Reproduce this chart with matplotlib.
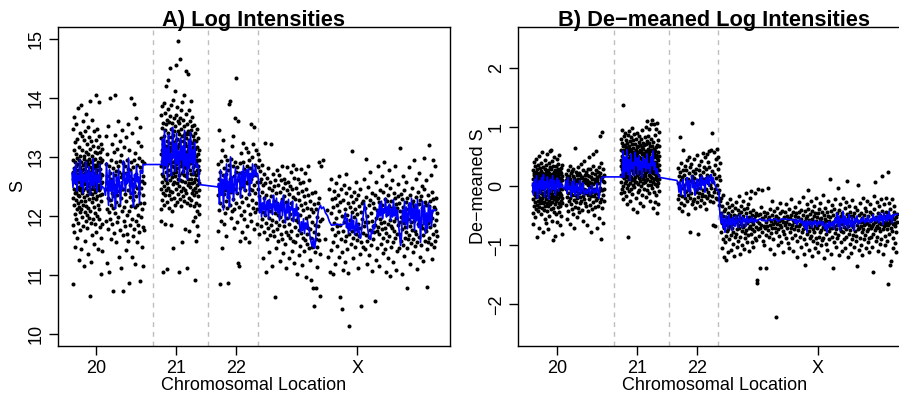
import matplotlib
matplotlib.use('Agg')
import matplotlib.pyplot as plt

plt.rcParams['font.family'] = ['Liberation Sans', 'DejaVu Sans']

# ---------------- axis / category info ----------------
chrom_labels = ['20', '21', '22', 'X']
chrom_ticks = [38.8, 118.9, 178.7, 299.6]
chrom_bounds = [95.5, 150.8, 200.0]
x_range = (0, 392.5)
ylim_A = (9.8, 15.2)
ylim_B = (-2.7, 2.7)
yticks_A = [10, 11, 12, 13, 14, 15]
yticks_B = [-2, -1, 0, 1, 2]
title_A = 'A) Log Intensities'
title_B = 'B) De\u2212meaned Log Intensities'
xlabel = 'Chromosomal Location'
ylabel_A = 'S'
ylabel_B = 'De\u2212meaned S'

# ---------------- Panel A: log intensities (position -> values) ----------------
chr20_S = {
    15: [12.62, 12.95, 12.31, 13.48, 11.85, 12.74, 10.84], 16: [12.45, 12.81, 13.12, 12.18, 12.66, 13.68, 11.72],
    17: [12.91, 12.38, 12.57, 13.25, 12.03, 12.72, 11.48], 18: [12.55, 13.05, 12.27, 12.84, 13.55, 11.95, 12.41],
    19: [12.71, 12.12, 12.98, 12.46, 13.31, 11.62, 12.63], 20: [12.36, 12.88, 12.59, 13.82, 12.21, 11.88, 12.77],
    21: [12.94, 12.49, 12.15, 13.17, 12.68, 11.25, 12.33], 22: [12.58, 13.41, 12.83, 12.07, 12.44, 13.02, 11.76],
    23: [12.26, 12.69, 13.87, 12.52, 12.91, 11.43, 12.11], 24: [12.77, 12.39, 13.11, 12.64, 11.98, 13.36, 12.48],
    25: [12.43, 12.86, 12.19, 13.60, 12.71, 11.83, 12.57], 26: [13.02, 12.54, 12.32, 12.79, 11.15, 12.96, 13.29],
    27: [12.61, 12.25, 12.89, 13.44, 12.06, 12.73, 11.57], 28: [12.84, 12.47, 13.08, 12.17, 12.62, 13.72, 11.91],
    29: [12.35, 12.93, 12.56, 13.21, 11.79, 12.69, 12.02], 30: [12.76, 12.14, 12.42, 13.05, 12.88, 11.36, 13.51],
    31: [12.51, 12.97, 12.28, 12.67, 13.33, 11.97, 12.44], 32: [12.63, 12.09, 12.82, 13.14, 12.38, 10.65, 13.95],
    33: [12.92, 12.45, 12.61, 11.88, 13.26, 12.74, 11.21], 34: [12.37, 12.78, 13.01, 12.23, 12.55, 13.62, 11.67],
    35: [12.69, 12.31, 12.94, 12.50, 11.94, 13.19, 12.83], 36: [12.46, 12.87, 12.15, 13.43, 12.64, 11.52, 12.72],
    37: [12.81, 12.40, 12.58, 13.09, 12.04, 12.97, 11.86], 38: [12.29, 12.73, 13.28, 12.53, 12.86, 11.72, 14.05],
    39: [12.65, 13.06, 12.34, 12.77, 11.99, 13.47, 12.49], 40: [12.52, 12.18, 12.91, 12.67, 13.17, 11.43, 12.84],
    41: [12.89, 12.43, 12.60, 13.35, 12.12, 11.95, 13.93], 42: [12.35, 12.79, 12.98, 12.48, 11.81, 13.08, 12.64],
    43: [12.71, 12.26, 12.55, 13.22, 11.63, 12.92, 11.02], 44: [12.58, 12.95, 12.37, 11.87, 13.13, 12.70, 11.40],
    48: [12.45, 12.88, 11.92, 13.35], 49: [12.12, 12.67, 13.05, 11.20], 50: [12.58, 12.31, 13.52, 11.78],
    51: [12.84, 12.06, 12.49, 11.05], 52: [12.27, 12.72, 14.00, 11.94], 53: [12.63, 12.95, 12.18, 11.61],
    54: [12.39, 13.21, 11.86, 12.54], 55: [12.81, 12.14, 12.47, 10.72], 56: [12.52, 13.08, 11.71, 12.33],
    57: [12.04, 12.69, 13.37, 14.05], 58: [12.76, 12.23, 11.55, 12.91], 59: [12.35, 13.14, 12.61, 11.89],
    60: [12.58, 11.98, 12.85, 13.60], 61: [12.19, 12.74, 11.30, 12.42], 62: [12.93, 12.51, 11.76, 13.26],
    63: [12.30, 12.66, 13.03, 11.12], 64: [12.71, 12.08, 12.45, 13.45], 65: [12.46, 12.89, 11.67, 10.72],
    66: [12.15, 12.62, 13.17, 11.91], 67: [12.84, 12.37, 11.83, 12.56], 68: [12.25, 12.73, 13.33, 11.42],
    69: [12.61, 12.02, 12.94, 11.70], 70: [12.43, 12.80, 11.58, 13.55], 71: [12.09, 12.68, 13.12, 10.87],
    72: [12.77, 12.32, 11.85, 12.52], 73: [12.38, 12.91, 12.16, 14.00], 74: [12.62, 11.95, 13.40, 11.31],
    75: [12.27, 12.83, 12.54, 11.66], 76: [12.95, 12.41, 11.78, 13.90], 77: [12.50, 12.15, 13.07, 11.19],
    78: [12.71, 12.33, 11.92, 13.65], 79: [12.18, 12.86, 12.47, 11.55], 80: [12.64, 12.02, 13.25, 11.84],
    81: [12.39, 12.98, 11.73, 12.57], 82: [12.83, 12.21, 13.50, 10.90], 83: [12.47, 12.76, 11.98, 13.18],
    84: [12.12, 12.59, 12.93, 11.47], 85: [12.68, 12.35, 11.81, 11.15], 86: [12.55, 12.90, 12.22, 11.76],
}
chr21_S = {
    103: [12.85, 13.32, 12.46, 13.71, 12.12, 13.05, 11.92], 104: [13.12, 12.58, 13.49, 12.93, 12.27, 13.86, 12.71],
    105: [12.67, 13.21, 12.95, 13.58, 12.38, 11.05, 13.03], 106: [13.35, 12.82, 12.51, 13.14, 13.92, 12.18, 12.99],
    107: [12.91, 13.46, 12.63, 13.08, 12.35, 13.74, 11.87], 108: [13.18, 12.74, 13.55, 12.44, 12.97, 14.20, 12.61],
    109: [12.55, 13.27, 12.86, 13.63, 12.23, 13.02, 11.10], 110: [13.41, 12.89, 12.48, 13.16, 13.81, 12.69, 14.30],
    111: [12.78, 13.34, 13.07, 12.36, 13.59, 12.13, 12.92], 112: [13.24, 12.61, 12.97, 13.69, 12.42, 14.50, 13.11],
    113: [12.99, 13.48, 12.71, 12.29, 13.17, 11.84, 13.88], 114: [12.66, 13.13, 13.57, 12.84, 12.40, 13.33, 12.08],
    115: [13.37, 12.92, 12.54, 13.25, 13.96, 12.73, 11.45], 116: [12.83, 13.44, 13.06, 12.31, 13.65, 12.58, 13.21],
    117: [13.09, 12.67, 13.52, 12.95, 12.19, 14.12, 12.77], 118: [12.74, 13.29, 12.88, 13.71, 12.46, 13.04, 14.55],
    119: [13.31, 12.81, 13.15, 12.55, 13.84, 12.24, 12.96], 120: [12.96, 13.43, 12.62, 13.18, 12.37, 14.97, 13.61],
    121: [13.22, 12.70, 13.39, 12.99, 13.58, 11.05, 12.50], 122: [12.61, 13.26, 12.93, 13.66, 12.28, 14.65, 13.09],
    123: [13.14, 12.85, 13.47, 12.42, 13.02, 12.16, 13.79], 124: [12.88, 13.36, 12.59, 13.11, 13.93, 12.73, 11.55],
    125: [13.27, 12.76, 13.04, 12.47, 13.62, 12.33, 12.94], 126: [12.69, 13.19, 12.91, 13.53, 12.25, 14.05, 13.37],
    127: [13.06, 12.58, 13.41, 12.83, 13.24, 11.78, 12.44], 128: [12.81, 13.32, 12.67, 13.09, 12.39, 14.45, 13.72],
    129: [13.19, 12.73, 13.56, 12.96, 12.21, 13.38, 11.12], 130: [12.63, 13.11, 12.87, 13.44, 12.52, 14.40, 12.98],
    131: [13.28, 12.94, 12.56, 13.15, 13.79, 12.31, 11.75], 132: [12.77, 13.38, 13.02, 12.49, 13.61, 12.18, 13.25],
    133: [13.05, 12.62, 13.46, 12.89, 12.27, 13.94, 12.71], 134: [12.92, 13.23, 12.55, 13.67, 12.38, 13.08, 13.52],
    135: [13.16, 12.71, 12.98, 12.43, 13.35, 11.92, 12.82], 136: [12.58, 13.07, 13.29, 12.74, 12.16, 13.54, 12.35],
    137: [12.86, 12.47, 13.13, 12.62, 11.98, 10.92, 13.41], 138: [12.69, 13.02, 12.41, 12.91, 13.26, 11.58, 12.22],
    139: [12.94, 12.53, 12.78, 13.17, 12.09, 13.47, 11.83], 140: [12.61, 12.85, 12.34, 13.05, 12.72, 11.67, 13.32],
    141: [12.77, 12.44, 12.95, 12.18, 13.11, 12.56, 12.03],
}
chr22_S = {
    160: [12.35, 12.88, 11.74], 161: [12.62, 13.45, 12.10], 162: [12.21, 12.74, 10.85], 163: [12.93, 12.48, 11.92],
    164: [12.55, 13.12, 11.45], 165: [12.16, 12.69, 13.28], 166: [12.81, 12.37, 11.86], 167: [12.44, 13.02, 12.05],
    168: [12.71, 12.26, 11.66], 169: [12.58, 12.95, 12.13], 170: [12.32, 12.77, 10.87], 171: [12.86, 13.90, 12.49],
    172: [12.19, 12.63, 13.95], 173: [12.97, 12.41, 11.97], 174: [12.53, 13.18, 12.08], 175: [12.29, 12.84, 13.35],
    176: [12.67, 12.11, 11.79], 177: [12.45, 12.92, 13.65], 178: [12.74, 14.33, 12.22], 179: [12.38, 12.83, 11.90],
    180: [12.60, 13.60, 11.20], 181: [12.15, 12.73, 11.15], 182: [12.89, 12.47, 11.58], 183: [12.34, 13.07, 12.01],
    184: [12.66, 12.24, 11.72], 185: [12.50, 12.91, 13.24], 186: [12.08, 12.79, 11.95], 187: [12.72, 12.43, 11.62],
    188: [12.31, 13.15, 12.57], 189: [12.85, 12.56, 11.83], 190: [12.18, 12.70, 13.08], 191: [12.94, 12.37, 11.55],
    192: [12.46, 12.81, 12.03], 193: [12.62, 13.55, 11.91], 194: [12.27, 12.99, 12.44], 195: [12.76, 12.14, 13.21],
    196: [12.53, 13.50, 11.78], 197: [12.39, 12.87, 12.06], 198: [12.69, 12.22, 13.12], 199: [12.11, 12.58, 11.87],
    200: [12.82, 12.45, 13.04], 201: [12.33, 12.94, 11.69], 202: [12.57, 12.19, 12.76],
}
chrX_S = {
    203: [12.18, 12.62, 11.83], 204: [12.41, 11.95, 12.86], 205: [12.07, 12.53, 11.28], 206: [12.30, 11.72, 12.71],
    207: [12.55, 12.02, 13.23], 208: [11.88, 12.36, 11.05], 209: [12.64, 12.13, 11.61], 210: [12.25, 11.79, 12.81],
    211: [12.47, 11.97, 11.38], 212: [12.09, 12.58, 11.68], 213: [12.33, 11.85, 13.22], 214: [11.93, 12.44, 11.15],
    215: [12.71, 12.19, 11.74], 216: [12.26, 11.66, 12.50], 217: [12.05, 12.61, 10.63], 218: [12.38, 11.90, 11.46],
    219: [11.77, 12.22, 12.78], 220: [12.52, 12.01, 11.58], 221: [12.17, 11.84, 12.69], 222: [11.98, 12.40, 11.24],
    223: [12.60, 12.11, 11.70], 224: [12.29, 11.61, 12.85], 225: [11.91, 12.47, 11.37], 226: [12.34, 11.82, 12.63],
    227: [12.08, 12.55, 11.52], 228: [11.73, 12.24, 11.12], 229: [12.43, 11.96, 12.82], 230: [12.15, 11.68, 12.58],
    231: [11.86, 12.37, 11.29], 232: [12.50, 12.03, 11.63], 233: [12.21, 11.75, 12.74], 234: [11.94, 12.45, 11.41],
    235: [12.32, 11.58, 12.87], 236: [12.06, 12.64, 11.20], 237: [11.81, 12.28, 11.55], 238: [12.48, 11.93, 12.79],
    239: [12.13, 11.67, 11.02], 240: [11.89, 12.39, 12.62], 241: [12.27, 11.76, 11.33], 242: [12.02, 12.56, 11.49],
    243: [11.71, 12.18, 12.80], 244: [12.42, 11.87, 11.16], 245: [12.10, 11.63, 12.57], 246: [11.84, 12.33, 11.40],
    247: [12.22, 11.59, 12.73], 248: [11.97, 12.46, 10.97], 249: [11.69, 12.14, 11.52], 250: [12.36, 11.80, 12.85],
    251: [12.00, 11.45, 12.61], 252: [11.78, 12.25, 11.26], 253: [12.12, 11.62, 10.91], 254: [11.90, 12.39, 11.48],
    255: [11.56, 12.07, 10.78], 256: [12.20, 11.73, 10.47], 257: [11.85, 11.38, 12.40], 258: [11.61, 12.11, 10.78],
    259: [11.98, 11.47, 11.14], 260: [11.70, 12.22, 11.83], 261: [12.31, 11.59, 12.92], 262: [11.92, 11.35, 10.65],
    263: [12.85], 264: [11.95], 265: [12.95], 267: [11.60], 269: [12.10], 270: [11.30], 271: [12.45], 272: [11.05],
    273: [12.05, 11.42, 12.62], 274: [11.78, 12.28], 275: [12.15, 11.55, 11.01], 276: [11.88, 12.42],
    277: [12.30, 11.67, 11.19], 278: [11.96, 12.55], 279: [12.19, 11.49, 11.83], 280: [11.72, 12.36],
    281: [12.08, 11.31, 12.67], 282: [11.84, 12.24, 10.62], 283: [12.46, 11.61], 284: [11.99, 11.38, 10.43],
    285: [12.27, 11.74, 11.09], 286: [11.90, 12.53], 287: [12.12, 11.57, 11.22], 288: [11.66, 12.38, 12.71],
    289: [12.01, 11.44], 290: [11.81, 12.21, 11.03], 291: [12.48, 11.69, 10.14], 292: [11.93, 12.15],
    293: [12.33, 11.52, 11.86], 294: [11.75, 12.06, 13.10], 295: [12.24, 11.62, 11.29], 296: [11.98, 12.41],
    297: [12.11, 11.48, 11.77], 298: [11.70, 12.29, 12.58], 299: [12.03, 11.59], 300: [11.87, 12.35, 11.12],
    301: [12.16, 11.66], 302: [11.79, 12.45, 11.35], 303: [12.07, 11.55, 10.47], 304: [11.94, 12.22],
    305: [12.26, 11.71, 11.47], 306: [11.83, 12.62], 307: [12.14, 11.43, 11.89], 308: [11.68, 12.32, 12.96],
    309: [12.00, 11.58, 11.18], 310: [11.89, 12.49], 311: [12.18, 11.64, 11.34], 312: [11.76, 12.27, 12.74],
    313: [12.05, 11.50], 314: [11.92, 12.39, 11.07], 315: [12.21, 11.61, 11.82], 316: [11.73, 12.13],
    317: [12.36, 11.85, 10.55], 318: [11.97, 12.58, 11.26], 319: [12.10, 11.46, 11.74], 320: [11.81, 12.31, 12.85],
    321: [12.24, 11.69, 11.15], 322: [11.95, 12.44], 323: [12.12, 11.53, 11.88], 324: [11.77, 12.19, 12.67],
    325: [12.40, 11.62, 11.37], 326: [11.90, 12.08, 12.92], 327: [12.29, 11.44, 11.79], 328: [11.71, 12.52, 11.05],
    329: [12.03, 11.58, 12.25], 330: [11.86, 12.36, 11.28], 331: [12.17, 11.66, 12.78], 332: [11.93, 12.47, 10.98],
    333: [12.26, 11.48, 11.83], 334: [11.80, 12.14, 12.60], 335: [12.05, 11.55, 11.21], 336: [11.74, 12.38, 11.92],
    337: [12.31, 11.63, 12.84], 338: [11.96, 12.20, 11.09], 339: [12.13, 11.41, 11.70], 340: [11.85, 12.54, 12.33],
    341: [12.22, 11.69, 11.45], 342: [11.90, 12.09, 13.15], 343: [12.37, 11.57, 11.98], 344: [11.78, 12.28, 11.02],
    345: [12.15, 11.50, 12.68], 346: [11.88, 12.43, 11.32], 347: [12.01, 11.62, 11.81], 348: [11.73, 12.23, 12.57],
    349: [12.30, 11.46, 10.78], 350: [11.94, 12.12, 11.60], 351: [12.19, 11.68, 12.82], 352: [11.82, 12.35, 11.19],
    353: [12.08, 11.54, 11.89], 354: [11.76, 12.47, 12.21], 355: [12.25, 11.60, 11.38], 356: [11.91, 12.17, 12.95],
    357: [12.11, 11.49, 11.75], 358: [11.69, 12.32, 12.63], 359: [12.04, 11.56, 11.10], 360: [11.86, 12.40, 11.96],
    361: [12.20, 11.64, 12.72], 362: [11.95, 12.27, 11.30], 363: [12.33, 11.51, 11.84], 364: [11.79, 12.13, 12.50],
    365: [12.09, 11.67, 11.24], 366: [11.90, 12.45, 12.98], 367: [12.23, 11.58, 11.77], 368: [11.74, 12.19, 12.61],
    369: [12.02, 11.44, 10.80], 370: [11.88, 12.36, 11.55], 371: [12.17, 11.63, 13.20], 372: [11.81, 12.26, 11.92],
    373: [12.06, 11.52, 12.70], 374: [11.97, 12.41, 11.27], 375: [12.28, 11.69, 12.95], 376: [11.84, 12.15, 11.48],
    377: [12.12, 11.57, 12.85], 378: [11.93, 12.30, 11.75], 379: [12.05, 11.66],
}

# ---------------- Panel B: de-meaned log intensities ----------------
chr20_D = {
    15: [0.02, -0.21, 0.28, -0.45, 0.13, -0.08, -0.64], 16: [-0.12, 0.19, -0.33, 0.41, 0.05, -0.02, 0.22],
    17: [0.16, -0.27, 0.07, -0.15, 0.34, -0.52, 0.00], 18: [-0.04, 0.25, -0.18, 0.11, -0.38, 0.47, -0.09],
    19: [0.09, -0.31, 0.20, -0.06, 0.29, -0.86, 0.03], 20: [-0.16, 0.12, -0.24, 0.36, -0.01, 0.18, -0.42],
    21: [0.22, -0.09, 0.04, -0.35, 0.15, -0.70, 0.51], 22: [-0.07, 0.31, -0.19, 0.08, -0.28, 0.17, 0.01],
    23: [0.14, -0.23, 0.26, -0.11, 0.39, -0.47, -0.03], 24: [-0.20, 0.06, -0.37, 0.23, -0.05, 0.58, 0.12],
    25: [0.10, -0.14, 0.33, -0.29, 0.02, -0.77, 0.19], 26: [-0.02, 0.21, -0.26, 0.15, -0.40, 0.07, -0.12],
    27: [0.18, -0.33, 0.04, 0.30, -0.17, 0.45, -0.55], 28: [-0.10, 0.13, -0.22, 0.37, 0.00, -0.62, 0.24],
    29: [0.06, -0.28, 0.20, -0.08, 0.55, -0.41, 0.11], 30: [-0.15, 0.27, -0.04, 0.16, -0.34, 0.02, -0.73],
    31: [0.23, -0.12, 0.09, -0.25, 0.40, -0.50, 0.14], 32: [-0.06, 0.18, -0.30, 0.05, 0.32, -0.18, 0.60],
    33: [0.12, -0.20, 0.29, -0.39, 0.03, 0.61, -0.08], 34: [-0.13, 0.08, -0.27, 0.21, -0.03, 0.43, -0.58],
    35: [0.19, -0.05, 0.35, -0.16, 0.10, -0.91, -0.36], 36: [-0.03, 0.24, -0.21, 0.06, -0.44, 0.15, 0.50],
    37: [0.08, -0.30, 0.17, -0.10, 0.28, -0.84, 0.01], 38: [-0.18, 0.11, -0.06, 0.34, -0.25, 0.20, -0.47],
    39: [0.05, -0.22, 0.25, -0.13, 0.46, -0.60, 0.09], 40: [-0.09, 0.16, -0.35, 0.02, 0.30, -0.19, 0.38],
    41: [0.21, -0.07, 0.12, -0.28, 0.53, -0.43, -0.01], 42: [-0.11, 0.26, -0.17, 0.07, -0.33, 0.14, -0.66],
    43: [0.13, -0.24, 0.03, 0.31, -0.14, -0.50, 0.22], 44: [-0.05, 0.18, -0.29, 0.10, -0.20, 0.37, -0.80],
    48: [-0.05, 0.21, -0.32, 0.10], 49: [0.15, -0.18, 0.04, -0.55], 50: [-0.12, 0.28, -0.41, 0.09],
    51: [0.06, -0.25, 0.18, -0.02], 52: [-0.20, 0.12, 0.35, -0.63], 53: [0.02, -0.30, 0.22, -0.09],
    54: [-0.15, 0.08, -0.38, 0.26], 55: [0.17, -0.06, 0.30, -0.47], 56: [-0.23, 0.01, 0.14, -0.70],
    57: [0.11, -0.14, 0.65, -0.35], 58: [-0.08, 0.24, -0.27, 0.05], 59: [0.19, -0.20, 0.07, -0.52],
    60: [-0.03, 0.33, -0.36, 0.12], 61: [0.09, -0.11, 0.23, -0.44], 62: [-0.18, 0.04, -0.29, 0.20],
    63: [0.14, -0.24, 0.38, -0.06], 64: [-0.10, 0.16, -0.40, 0.02], 65: [0.07, -0.17, 0.27, -0.58],
    66: [-0.21, 0.10, -0.05, 0.43], 67: [0.13, -0.28, 0.19, -0.12], 68: [-0.06, 0.25, -0.33, 0.06],
    69: [0.20, -0.09, 0.11, -0.65], 70: [-0.14, 0.03, -0.42, 0.29], 71: [0.08, -0.22, 0.17, 0.50],
    72: [-0.01, 0.30, -0.31, -0.13], 73: [0.16, -0.16, 0.05, -0.77], 74: [-0.09, 0.22, -0.38, 0.12],
    75: [0.04, -0.26, 0.34, 0.55], 76: [-0.17, 0.13, -0.04, -0.49], 77: [0.21, -0.12, 0.08, -0.35],
    78: [-0.05, 0.27, -0.23, 0.60], 79: [0.10, -0.19, 0.16, -0.70], 80: [-0.13, 0.06, -0.34, 0.24],
    81: [0.18, -0.08, 0.32, -0.53], 82: [-0.02, 0.23, -0.27, 0.85], 83: [0.12, -0.21, 0.40, -0.90],
    84: [-0.07, 0.15, -0.37, 0.92], 85: [0.09, -0.15, 0.29, -0.62], 86: [-0.04, 0.19, -0.25, 0.07],
}
chr21_D = {
    103: [0.35, 0.62, 0.08, 0.81, -0.12, 0.44, 0.20], 104: [0.52, 0.17, 0.73, 0.29, -0.05, 0.96, 0.40],
    105: [0.26, 0.58, 0.01, 0.69, 0.38, 1.38, -0.21], 106: [0.61, 0.33, 0.14, 0.85, 0.47, -0.09, 0.22],
    107: [0.19, 0.70, 0.42, 0.05, 0.57, 0.30, 0.90], 108: [0.45, 0.09, 0.66, 0.24, 0.79, -0.16, 0.37],
    109: [0.31, 0.54, -0.02, 0.74, 0.16, 0.48, -0.30], 110: [0.58, 0.21, 0.39, 0.87, 0.03, -0.85, 0.63],
    111: [0.12, 0.47, 0.28, 0.68, -0.08, 0.35, 0.93], 112: [0.40, 0.76, 0.18, 0.51, 0.06, 0.64, -0.25],
    113: [0.27, 0.60, 0.44, -0.04, 0.83, 0.15, 0.36], 114: [0.55, 0.11, 0.71, 0.32, 0.49, -0.13, 0.99],
    115: [0.23, 0.65, 0.02, 0.41, 0.78, 0.27, -0.38], 116: [0.47, 0.34, 0.59, 0.13, 0.88, -0.01, 0.53],
    117: [0.16, 0.72, 0.38, 0.57, 0.07, 0.44, 0.25], 118: [0.62, 0.29, 0.08, 0.80, 0.35, -0.20, 0.50],
    119: [0.36, 0.53, 0.19, 0.67, -0.43, 0.42, 0.91], 120: [0.21, 0.69, 0.46, 0.04, 0.58, 0.30, -0.10],
    121: [0.50, 0.14, 0.75, 0.37, 0.86, -0.06, 0.26], 122: [0.33, 0.61, 0.09, 0.48, 0.22, 0.70, -0.28],
    123: [0.58, 0.24, 0.42, 0.00, 0.81, 0.15, 0.39], 124: [0.17, 0.66, 0.31, 0.55, -0.15, 0.47, 0.95],
    125: [0.43, 0.05, 0.63, 0.28, 0.74, 0.12, -0.33], 126: [0.29, 0.57, 0.20, 0.70, 0.38, -0.04, 0.52],
    127: [0.52, 0.18, 0.45, 0.07, 0.84, 0.33, 0.23], 128: [0.24, 0.71, 0.36, 0.60, 0.11, 1.00, -0.18],
    129: [0.47, 0.13, 0.58, 0.30, -0.07, 0.77, 1.10], 130: [0.35, 0.64, 0.02, 0.50, 0.26, 0.86, 0.41],
    131: [0.19, 0.55, 0.41, 0.73, -0.12, 0.32, 0.97], 132: [0.60, 0.27, 0.09, 0.46, 0.68, 0.18, -0.24],
    133: [0.38, 0.16, 0.62, 0.25, 0.80, 1.05, 0.03], 134: [0.14, 0.50, 0.33, 0.69, -0.02, 0.43, 1.13],
    135: [0.55, 0.22, 0.40, 0.07, 0.75, 0.28, -0.36], 136: [0.31, 0.63, 0.12, 0.49, -0.10, 0.58, 1.05],
    137: [0.42, 0.04, 0.60, 0.21, 0.87, -0.26, 0.35], 138: [0.25, 0.53, 0.15, 0.39, 0.66, 0.97, -0.14],
    139: [0.48, 0.10, 0.70, 0.31, 0.00, 1.08, -0.45], 140: [0.20, 0.59, 0.36, 0.06, 0.44, 0.78, -0.30],
    141: [0.37, 0.13, 0.52, -0.08, 0.27, 0.68, 0.92],
}
chr22_D = {
    160: [0.05, -0.22, 0.31], 161: [-0.14, 0.18, -0.36], 162: [0.24, -0.05, 0.83], 163: [-0.28, 0.10, 0.40],
    164: [0.15, -0.17, -0.41], 165: [-0.03, 0.62, 0.27], 166: [0.20, -0.31, 0.02], 167: [-0.10, 0.35, -0.20],
    168: [0.28, -0.08, 0.12], 169: [-0.25, 0.07, 0.44], 170: [0.13, -0.15, -0.47], 171: [-0.06, 0.23, 0.50],
    172: [0.32, -0.19, -0.78], 173: [-0.12, 0.09, 0.38], 174: [0.18, -0.30, 1.08], 175: [0.01, 0.26, -0.24],
    176: [-0.21, 0.14, 0.47], 177: [0.22, -0.04, -0.36], 178: [-0.09, 0.30, 0.06], 179: [0.11, -0.26, 0.53],
    180: [-0.18, 0.04, -0.80], 181: [0.27, -0.11, 0.36], 182: [-0.02, 0.19, -0.33], 183: [0.16, -0.23, 0.43],
    184: [-0.13, 0.08, -0.17], 185: [0.25, -0.07, 0.57], 186: [-0.29, 0.12, 0.33], 187: [0.09, -0.16, 0.49],
    188: [-0.04, 0.29, -0.38], 189: [0.20, -0.20, 0.55], 190: [-0.10, 0.06, 0.41], 191: [0.33, -0.14, 0.60],
    192: [-0.24, 0.17, 0.02], 193: [0.13, -0.03, 0.62], 194: [-0.16, 0.26, 0.91], 195: [0.07, -0.27, -0.65],
    196: [0.21, -0.09, 0.58], 197: [-0.05, 0.36, -0.67], 198: [0.14, -0.19, 0.47], 199: [-0.22, 0.03, 0.63],
    200: [0.29, -0.12, 0.50], 201: [-0.07, 0.18, -0.32], 202: [0.10, -0.25, 0.39],
}
chrX_D = {
    203: [-0.45, -0.78, -0.20], 204: [-0.62, -0.33, -1.05], 205: [-0.51, -0.89, -0.15], 206: [-0.70, -0.41, -1.20],
    207: [-0.38, -0.66, -0.95], 208: [-0.84, -0.52, -1.25], 209: [-0.57, -0.29, -0.76], 210: [-0.73, -0.46, -1.12],
    211: [-0.35, -0.61, -0.90], 212: [-0.68, -0.49, -0.22], 213: [-0.54, -0.82, -1.08], 214: [-0.42, -0.70, -0.31],
    215: [-0.77, -0.56, -0.98], 216: [-0.48, -0.64, -1.18], 217: [-0.60, -0.37, -0.86], 218: [-0.81, -0.50, -0.27],
    219: [-0.55, -0.72, -1.02], 220: [-0.40, -0.66, -0.93], 221: [-0.71, -0.47, -0.17], 222: [-0.58, -0.85, -1.14],
    223: [-0.44, -0.63, -0.34], 224: [-0.76, -0.53, -0.99], 225: [-0.50, -0.69, -0.25], 226: [-0.65, -0.39, -1.06],
    227: [-0.79, -0.57, -0.88], 228: [-0.46, -0.74, -0.12], 229: [-0.62, -0.36, -0.95], 230: [-0.83, -0.55, -0.30],
    231: [-0.52, -0.70, -1.10], 232: [-0.67, -0.43, -0.20], 233: [-0.59, -0.80, -0.08], 234: [-0.48, -0.73, -0.94],
    235: [-0.64, -0.40, -1.03], 236: [-0.75, -0.56], 237: [-0.51, -0.88, -0.12], 238: [-0.69, -0.45, -0.91],
    239: [-0.58, -1.59, -1.64], 240: [-0.72, -0.49, -0.04], 241: [-0.62, -0.84], 242: [-0.47, -0.70, -1.38],
    243: [-0.66, -0.35], 244: [-0.78, -0.53, -0.07], 245: [-0.56, -0.92], 246: [-0.43, -0.68, -0.99],
    247: [-0.71, -0.50], 248: [-0.60, -0.82, -1.38], 249: [-0.45, -0.67], 250: [-0.74, -0.55, -0.02],
    251: [-0.52, -0.86], 252: [-0.65, -0.39, -1.07], 253: [-0.79, -0.58], 254: [-0.48, -0.71, -0.25],
    255: [-0.63, -0.90], 256: [-0.55, -0.42, -1.15], 257: [-0.70, -0.60], 258: [-0.50, -0.77, -2.22],
    259: [-0.64, -0.37], 260: [-0.73, -0.53, -1.00], 261: [-0.58, -0.84], 262: [-0.46, -0.66, -0.28],
    263: [-0.69, -0.94], 264: [-0.57, -0.41], 265: [-0.75, -0.60, -1.12], 266: [-0.52, -0.81],
    267: [-0.66, -0.44], 268: [-0.60, -0.87, -0.30], 269: [-0.71, -0.50], 270: [-0.55, -0.96],
    271: [-0.63, -0.38, -1.05], 272: [-0.78, -0.54], 273: [-0.49, -0.70, -0.22], 274: [-0.65, -0.88],
    275: [-0.57, -0.43, -1.10], 276: [-0.72, -0.61], 277: [-0.50, -0.83, -0.35], 278: [-0.67, -0.46],
    279: [-0.59, -0.92, -1.20], 280: [-0.74, -0.52], 281: [-0.44, -0.68, -0.27], 282: [-0.63, -0.85],
    283: [-0.55, -0.40, -1.02], 284: [-0.77, -0.60], 285: [-0.48, -0.72, -0.18], 286: [-0.66, -0.90, -1.15],
    287: [-0.58, -0.42, -1.33], 288: [-0.70, -0.53, -0.97], 289: [-0.51, -0.80, -0.30], 290: [-0.64, -0.38, -0.07],
    291: [-0.76, -0.57, -1.08], 292: [-0.47, -0.69, -0.88], 293: [-0.62, -0.84, -0.24], 294: [-0.55, -0.41, -1.18],
    295: [-0.73, -0.60, -0.93], 296: [-0.50, -0.78, -0.33], 297: [-0.68, -0.45, -1.04], 298: [-0.59, -0.87, -0.20],
    299: [-0.71, -0.52, -0.96], 300: [-0.46, -0.66, -1.12], 301: [-0.64, -0.39, -0.85], 302: [-0.77, -0.56, -0.29],
    303: [-0.53, -0.74, -1.00], 304: [-0.61, -0.43, -0.91], 305: [-0.69, -0.88, -0.14], 306: [-0.48, -0.62, -1.22],
    307: [-0.72, -0.55, -0.36], 308: [-0.58, -0.80, -0.97], 309: [-0.44, -0.67, -1.08], 310: [-0.66, -0.50, -0.25],
    311: [-0.75, -0.59, -0.89], 312: [-0.52, -0.71, 0.13], 313: [-0.63, -0.42, -1.15], 314: [-0.70, -0.85, -0.31],
    315: [-0.49, -0.60, -1.39], 316: [-0.67, -0.38, -0.94], 317: [-0.57, -0.79, -0.21], 318: [-0.73, -0.53, -1.03],
    319: [-0.46, -0.65, -0.88], 320: [-0.62, -0.83, -0.02], 321: [-0.55, -0.40, -1.17], 322: [-0.71, -0.58, -0.30],
    323: [-0.50, -0.76, -0.95], 324: [-0.64, -0.45, -1.10], 325: [-0.78, -0.61, -0.19], 326: [-0.53, -0.69, -0.90],
    327: [-0.60, -0.37, -1.05], 328: [-0.72, -0.86, -0.26], 329: [-0.47, -0.63, 0.09], 330: [-0.67, -0.52, -1.20],
    331: [-0.58, -0.80, -0.33], 332: [-0.74, -0.43, -0.97], 333: [-0.51, -0.66, -1.13], 334: [-0.62, -0.89, -0.23],
    335: [-0.69, -0.50, -0.82], 336: [-0.45, -0.60, -1.02], 337: [-0.76, -0.55, -0.35], 338: [-0.57, -0.84, -0.92],
    339: [-0.65, -0.40, -1.35], 340: [-0.73, -0.59, 0.03], 341: [-0.49, -0.70, -1.08], 342: [-0.61, -0.87, -0.28],
    343: [-0.68, -0.46, -0.99], 344: [-0.54, -0.77, -1.16], 345: [-0.72, -0.60, -0.20], 346: [-0.48, -0.65, -0.90],
    347: [-0.63, -0.83, -0.37], 348: [-0.56, -0.42, -1.05], 349: [-0.75, -0.62, -0.24], 350: [-0.50, -0.73, -0.95],
    351: [-0.66, -0.88, -1.12], 352: [-0.59, -0.44, -0.30], 353: [-0.71, -0.57, -0.86], 354: [-0.47, -0.68, -1.03],
    355: [-0.64, -0.80, -1.45], 356: [-0.55, -0.38, -0.16], 357: [-0.74, -0.61, 0.08], 358: [-0.52, -0.70, -0.93],
    359: [-0.67, -0.85, -0.26], 360: [-0.58, -0.45, -1.10], 361: [-0.70, -0.62, -0.34], 362: [-0.49, -0.76, -0.97],
    363: [-0.63, -0.90, -0.21], 364: [-0.56, -0.41, 0.17], 365: [-0.73, -0.60, -1.15], 366: [-0.51, -0.68, -0.30],
    367: [-0.65, -0.84, -1.00], 368: [-0.60, -0.43, -0.19], 369: [-0.72, -0.55, -0.92], 370: [-0.47, -0.66, -1.66, 0.24],
    371: [-0.62, -0.81, -0.28], 372: [-0.57, -0.39, -1.33], 373: [-0.70, -0.60, -1.27], 374: [-0.50, -0.75, -0.22],
    375: [-0.64, -0.88, -1.05], 376: [-0.55, -0.44, -0.33], 377: [-0.68, -0.62, -0.96], 378: [-0.52, -0.78, -1.12],
    379: [-0.60, -0.47],
}

# ---------------- smoothed segment lines (position -> value) ----------------
smooth_S = {
    14.5: 12.72, 15.5: 12.48, 16.5: 12.81, 17.5: 12.55, 18.5: 12.90, 19.5: 12.42, 20.5: 12.68, 21.5: 12.60,
    22.5: 12.95, 23.5: 12.50, 24.5: 12.77, 25.5: 12.38, 26.5: 12.70, 27.5: 12.58, 28.5: 12.92, 29.5: 12.44,
    30.5: 12.66, 31.5: 12.83, 32.5: 12.35, 33.5: 12.74, 34.5: 12.52, 35.5: 12.97, 36.5: 12.46, 37.5: 12.63,
    38.5: 12.80, 39.5: 12.40, 40.5: 12.69, 41.5: 12.57, 42.5: 12.88, 43.5: 12.45, 44.5: 12.50, 46.5: 12.47,
    48: 12.35, 49: 12.90, 50: 12.52, 51: 12.18, 52: 12.78, 53: 12.42, 54: 12.60, 55: 12.25, 56: 12.74,
    57: 12.47, 58: 12.12, 59: 12.66, 60: 12.38, 61: 12.80, 62: 12.50, 63: 12.20, 64: 12.58, 65: 12.45,
    66: 12.93, 67: 12.62, 68: 12.40, 69: 12.72, 70: 12.55, 71: 12.98, 72: 12.60, 73: 12.36, 74: 12.75,
    75: 12.50, 76: 12.15, 77: 12.70, 78: 12.48, 79: 12.85, 80: 12.58, 81: 12.66, 82: 12.22, 83: 12.77,
    84: 12.74, 85: 12.72, 85.5: 12.87, 104: 12.87,
    104.5: 12.95, 105: 13.30, 106: 12.70, 107: 13.45, 108: 12.85, 109: 13.15, 110: 12.60, 111: 13.38,
    112: 12.90, 113: 13.05, 114: 12.68, 115: 13.50, 116: 12.98, 117: 13.22, 118: 12.75, 119: 13.40,
    120: 12.88, 121: 13.10, 122: 12.58, 123: 13.32, 124: 12.95, 125: 13.18, 126: 12.72, 127: 13.45,
    128: 12.85, 129: 13.05, 130: 12.62, 131: 13.28, 132: 12.80, 133: 13.42, 134: 12.90, 135: 13.12,
    136: 12.70, 137: 13.25, 138: 12.95, 139: 12.82, 140: 12.88, 141: 12.78, 142: 12.53, 160.5: 12.49,
    161: 12.55, 162: 12.20, 163: 12.78, 164: 12.35, 165: 12.62, 166: 12.10, 167: 12.70, 168: 12.45,
    169: 12.88, 170: 12.30, 171: 12.58, 172: 12.15, 173: 13.00, 174: 12.40, 175: 12.66, 176: 12.25,
    177: 12.52, 178: 12.82, 179: 12.38, 180: 12.60, 181: 12.72, 182: 12.68, 183: 12.30, 184: 12.75,
    185: 12.50, 186: 12.85, 187: 12.42, 188: 12.70, 189: 12.78, 190: 12.60, 191: 12.80, 192: 12.35,
    193: 12.72, 194: 12.55, 195: 12.88, 196: 12.65, 197: 12.70, 198: 12.85, 199: 12.68, 200: 12.72,
    201: 12.60, 202: 12.05,
    203: 12.30, 204: 11.98, 205: 12.22, 206: 12.10, 207: 12.32, 208: 12.00, 209: 12.18, 210: 12.25,
    211: 11.95, 212: 12.28, 213: 12.12, 214: 12.20, 215: 12.02, 216: 12.35, 217: 12.15, 218: 12.08,
    219: 12.30, 220: 12.05, 221: 12.22, 222: 11.92, 223: 12.18, 224: 12.26, 225: 12.00, 226: 12.35,
    227: 12.12, 228: 11.88, 229: 12.20, 230: 12.05, 231: 12.28, 232: 11.95, 233: 12.15, 234: 12.10,
    235: 12.25, 236: 11.90, 237: 12.12, 238: 12.00, 239: 12.20, 240: 11.95, 241: 12.05, 242: 11.85,
    243: 11.72, 244: 11.90, 245: 11.75, 246: 11.95, 247: 11.70, 248: 11.88, 249: 11.78, 250: 11.92,
    251: 11.80, 252: 11.72, 253: 11.60, 254: 11.52, 255: 11.48, 256: 11.62, 257: 11.45, 258: 11.55,
    259: 11.85, 261: 12.10, 263: 12.18, 264: 12.12, 266: 12.15, 268: 12.05, 270: 12.00, 272: 11.90,
    274: 11.84, 277: 11.85, 280: 11.86, 283: 11.84, 286: 11.86, 287: 11.98, 288: 12.05, 289: 11.80,
    290: 11.95, 291: 11.70, 292: 11.88, 293: 11.75, 294: 12.02, 295: 11.78, 296: 11.92, 297: 11.68,
    298: 11.82, 299: 11.95, 300: 11.72, 301: 11.85, 302: 11.66, 303: 11.62, 304: 11.75, 305: 11.90,
    306: 12.05, 307: 12.22, 308: 12.10, 309: 11.95, 310: 11.80, 311: 11.70, 312: 11.62, 313: 11.60,
    314: 11.75, 315: 11.70, 316: 11.85, 317: 11.78, 318: 11.90, 319: 11.95, 320: 12.10, 321: 11.98,
    322: 12.20, 323: 12.00, 324: 12.25, 325: 11.95, 326: 12.12, 327: 12.05, 328: 12.30, 329: 11.98,
    330: 12.15, 331: 12.02, 332: 12.20, 333: 11.92, 334: 12.12, 335: 11.98, 336: 12.28, 337: 12.00,
    338: 12.15, 339: 11.95, 340: 12.10, 341: 11.85, 342: 11.70, 343: 11.50, 344: 11.65, 345: 12.10,
    346: 11.90, 347: 12.25, 348: 11.85, 349: 12.15, 350: 11.78, 351: 12.05, 352: 12.22, 353: 11.88,
    354: 12.30, 355: 11.95, 356: 12.12, 357: 11.75, 358: 12.20, 359: 11.92, 360: 12.28, 361: 11.80,
    362: 12.10, 363: 11.55, 364: 12.00, 365: 12.25, 366: 11.85, 367: 12.18, 368: 11.70, 369: 12.05,
    370: 11.78, 371: 12.22, 372: 11.90, 373: 12.15, 374: 11.82, 375: 12.10, 376: 12.08, 377: 12.10,
    378: 12.10,
}
smooth_D = {
    14.5: 0.05, 15.5: -0.15, 16.5: 0.12, 17.5: -0.08, 18.5: 0.18, 19.5: -0.20, 20.5: 0.02, 21.5: 0.10,
    22.5: -0.12, 23.5: 0.15, 24.5: -0.05, 25.5: 0.20, 26.5: -0.18, 27.5: 0.08, 28.5: -0.02, 29.5: 0.16,
    30.5: -0.22, 31.5: 0.06, 32.5: 0.12, 33.5: -0.10, 34.5: 0.18, 35.5: -0.05, 36.5: 0.10, 37.5: -0.15,
    38.5: 0.04, 39.5: 0.14, 40.5: -0.08, 41.5: 0.10, 42.5: -0.02, 43.5: 0.05, 44.5: 0.00, 46.5: -0.05,
    48: 0.10, 49: -0.12, 50: 0.15, 51: -0.05, 52: 0.00, 53: -0.18, 54: 0.08, 55: -0.10, 56: 0.12,
    57: -0.15, 58: -0.02, 59: 0.05, 60: -0.20, 61: -0.08, 62: 0.10, 63: -0.12, 64: -0.05, 65: 0.06,
    66: -0.15, 67: -0.10, 68: -0.05, 69: -0.12, 70: -0.08, 71: -0.02, 72: -0.15, 73: -0.10, 74: 0.02,
    75: -0.08, 76: -0.12, 77: -0.05, 78: -0.10, 79: 0.05, 80: -0.08, 81: -0.20, 82: -0.02, 83: 0.10,
    84: 0.15, 85: 0.15, 85.5: 0.16, 104: 0.16,
    104.5: 0.30, 105: 0.60, 106: 0.15, 107: 0.50, 108: 0.25, 109: 0.62, 110: 0.20, 111: 0.45,
    112: 0.10, 113: 0.55, 114: 0.30, 115: 0.40, 116: 0.18, 117: 0.58, 118: 0.35, 119: 0.48,
    120: 0.20, 121: 0.52, 122: 0.28, 123: 0.42, 124: 0.15, 125: 0.50, 126: 0.32, 127: 0.45,
    128: 0.25, 129: 0.55, 130: 0.30, 131: 0.38, 132: 0.22, 133: 0.50, 134: 0.35, 135: 0.60,
    136: 0.28, 137: 0.40, 138: 0.22, 139: 0.30, 140: 0.20, 141: 0.18, 142: 0.15, 159: 0.10,
    160: 0.05, 161: -0.10, 162: 0.08, 163: -0.15, 164: 0.02, 165: 0.12, 166: -0.05, 167: -0.18,
    168: 0.06, 169: 0.15, 170: -0.08, 171: 0.10, 172: -0.12, 173: 0.04, 174: 0.18, 175: -0.02,
    176: 0.10, 177: -0.15, 178: 0.00, 179: 0.12, 180: -0.08, 181: 0.05, 182: 0.15, 183: -0.05,
    184: 0.18, 185: 0.02, 186: 0.10, 187: -0.10, 188: 0.15, 189: 0.05, 190: 0.18, 191: 0.00,
    192: 0.12, 193: 0.20, 194: 0.05, 195: 0.15, 196: 0.08, 197: 0.02, 198: -0.02, 199: -0.05,
    200: -0.08, 201: -0.10, 202: -0.50,
    203: -0.62, 204: -0.45, 205: -0.70, 206: -0.55, 207: -0.78, 208: -0.50, 209: -0.60, 210: -0.72,
    211: -0.48, 212: -0.65, 213: -0.55, 214: -0.75, 215: -0.52, 216: -0.60, 217: -0.68, 218: -0.50,
    219: -0.58, 220: -0.70, 221: -0.55, 222: -0.48, 223: -0.62, 224: -0.70, 225: -0.52, 226: -0.60,
    227: -0.55, 228: -0.68, 229: -0.50, 230: -0.58, 231: -0.62, 232: -0.55, 233: -0.60, 234: -0.52,
    235: -0.58, 236: -0.62, 237: -0.55, 238: -0.60, 240: -0.57, 242: -0.55, 244: -0.58, 246: -0.56,
    248: -0.60, 250: -0.57, 252: -0.55, 254: -0.58, 256: -0.56, 258: -0.55, 260: -0.60, 262: -0.57,
    264: -0.55, 276: -0.57, 277: -0.62, 278: -0.55, 279: -0.65, 280: -0.58, 281: -0.60, 282: -0.55,
    283: -0.62, 284: -0.58, 285: -0.66, 286: -0.60, 287: -0.72, 288: -0.58, 289: -0.78, 290: -0.60,
    291: -0.65, 292: -0.58, 293: -0.62, 294: -0.70, 295: -0.60, 296: -0.65, 297: -0.58, 298: -0.62,
    299: -0.68, 300: -0.60, 301: -0.64, 302: -0.58, 303: -0.62, 304: -0.66, 305: -0.60, 306: -0.68,
    307: -0.72, 308: -0.62, 309: -0.78, 310: -0.65, 311: -0.60, 312: -0.70, 313: -0.62, 314: -0.66,
    315: -0.60, 316: -0.72, 317: -0.55, 318: -0.62, 319: -0.45, 320: -0.68, 321: -0.50, 322: -0.75,
    323: -0.55, 324: -0.62, 325: -0.42, 326: -0.70, 327: -0.50, 328: -0.65, 329: -0.55, 330: -0.72,
    331: -0.48, 332: -0.60, 333: -0.68, 334: -0.52, 335: -0.62, 336: -0.75, 337: -0.55, 338: -0.60,
    339: -0.50, 340: -0.65, 341: -0.58, 342: -0.62, 343: -0.55, 344: -0.60, 345: -0.52, 346: -0.58,
    347: -0.62, 348: -0.55, 349: -0.60, 350: -0.50, 351: -0.58, 352: -0.62, 353: -0.55, 354: -0.60,
    355: -0.48, 356: -0.58, 357: -0.52, 358: -0.60, 359: -0.55, 360: -0.50, 361: -0.62, 362: -0.45,
    363: -0.58, 364: -0.50, 365: -0.65, 366: -0.45, 367: -0.55, 368: -0.60, 369: -0.48, 370: -0.58,
    371: -0.42, 372: -0.55, 373: -0.50, 374: -0.62, 375: -0.48, 376: -0.50, 377: -0.47, 378: -0.48,
    380: -0.47,
}


def flatten(*dicts):
    xs, ys = [], []
    for d in dicts:
        for pos, vals in d.items():
            xs.extend([pos] * len(vals))
            ys.extend(vals)
    return xs, ys


W, H = 899, 396
fig = plt.figure(figsize=(W / 100, H / 100), dpi=100)
ax_bottom = (H - 345.7) / H
ax_height = (345.7 - 27) / H
axA = fig.add_axes([57.5 / W, ax_bottom, 392.5 / W, ax_height])
axB = fig.add_axes([518 / W, ax_bottom, 392.5 / W, ax_height])

panels = [
    (axA, (chr20_S, chr21_S, chr22_S, chrX_S), smooth_S, ylim_A, yticks_A, title_A, ylabel_A),
    (axB, (chr20_D, chr21_D, chr22_D, chrX_D), smooth_D, ylim_B, yticks_B, title_B, ylabel_B),
]

for ax, data, smooth, ylim, yticks, title, ylab in panels:
    for b in chrom_bounds:
        ax.axvline(b, color='#BEBEBE', lw=1.0, dashes=(3.5, 3.5), zorder=1)
    xs, ys = flatten(*data)
    ax.scatter(xs, ys, s=8.5, c='black', linewidths=0, zorder=2)
    ax.plot(list(smooth.keys()), list(smooth.values()), color='#0000FF', lw=1.2, zorder=3)
    ax.set_xlim(*x_range)
    ax.set_ylim(*ylim)
    ax.set_xticks(chrom_ticks)
    ax.set_xticklabels(chrom_labels)
    ax.set_yticks(yticks)
    ax.tick_params(direction='out', length=6.5, width=1.0, labelsize=13, color='black')
    ax.tick_params(axis='x', pad=4)
    ax.tick_params(axis='y', pad=3, labelrotation=90)
    for lab in ax.get_yticklabels():
        lab.set_va('center')
    for sp in ax.spines.values():
        sp.set_linewidth(1.0)
        sp.set_color('black')
    ax.text(0.5, 1.004, title, transform=ax.transAxes, ha='center', va='baseline',
            fontsize=15.7, fontweight='bold')
    ax.text(0.5, (345.7 - 385) / 318.7, xlabel, transform=ax.transAxes, ha='center', va='center',
            fontsize=13)
    ax.text(-39.5 / 392.5, 0.5, ylab, transform=ax.transAxes, ha='center', va='center',
            rotation=90, fontsize=13)

fig.savefig('out.png', dpi=100)
